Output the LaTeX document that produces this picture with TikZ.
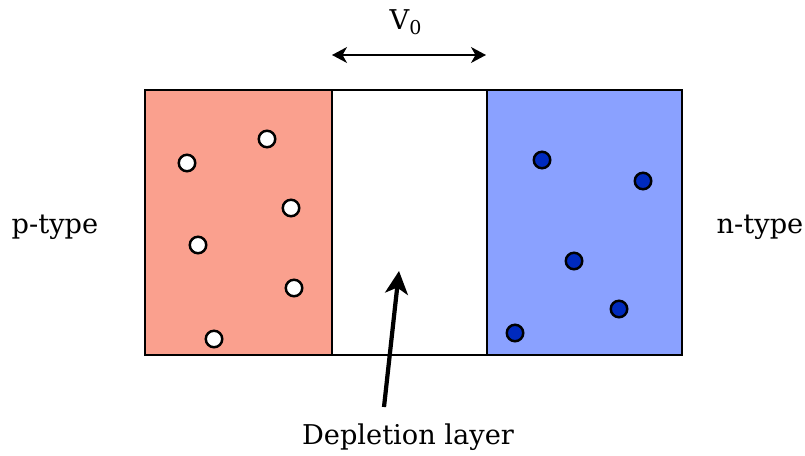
\documentclass[tikz,border=0pt]{standalone}
\usepackage{fontspec}
\setmainfont{DejaVu Serif}
\usepackage{tikz}
\usetikzlibrary{positioning,arrows.meta}

\definecolor{pfill}{RGB}{250,160,142}
\definecolor{nfill}{RGB}{138,161,255}
\definecolor{elec}{RGB}{0,42,190}

\begin{document}
\begin{tikzpicture}[
    x=0.02cm, y=-0.02cm,
    font=\fontsize{15.5}{18}\selectfont,
    region/.style={rectangle, draw, line width=1.2pt, inner sep=0pt, outer sep=0pt, minimum height=5.3cm},
    hole/.style={circle, draw, line width=1.4pt, fill=white, inner sep=0pt, minimum size=0.33cm},
    electron/.style={circle, draw, line width=1.4pt, fill=elec, inner sep=0pt, minimum size=0.33cm},
    arrow/.style={-{Stealth[length=13pt, width=13pt, inset=3.5pt]}, line width=2.4pt},
    darrow/.style={{Stealth[length=8.5pt, width=9pt, inset=2.5pt]}-{Stealth[length=8.5pt, width=9pt, inset=2.5pt]}, line width=1.2pt}
]
    \useasboundingbox (0,0) rectangle (805,456);

    \node (pregion) [region, fill=pfill, minimum width=3.74cm] at (238.5,222.5) {};
    \node (depl) [region, fill=white, minimum width=3.1cm, right=0pt of pregion] {};
    \node (nregion) [region, fill=nfill, minimum width=3.9cm, right=0pt of depl] {};

    % holes
    \node (h1) [hole] at (267,139) {};
    \node (h2) [hole] at (187,163) {};
    \node (h3) [hole] at (291,208) {};
    \node (h4) [hole] at (198,245) {};
    \node (h5) [hole] at (294,288) {};
    \node (h6) [hole] at (214,339) {};

    % electrons
    \node (e1) [electron] at (542,160) {};
    \node (e2) [electron] at (643,181) {};
    \node (e3) [electron] at (574,261) {};
    \node (e4) [electron] at (619,309) {};
    \node (e5) [electron] at (515,333) {};

    \node (ptype) at (55,227) {p-type};
    \node (ntype) at (760,227) {n-type};
    \node (vzero) at (406,22) {V\textsubscript{0}};
    \node (depltext) at (408,437) {Depletion layer};

    \coordinate (vl) at (332,55);
    \coordinate (vr) at (486,55);
    \coordinate (tail) at (384,407);
    \coordinate (tip) at (399,271);

    \draw [darrow] (vl) -- (vr);
    \draw [arrow] (tail) -- (tip);
\end{tikzpicture}
\end{document}
